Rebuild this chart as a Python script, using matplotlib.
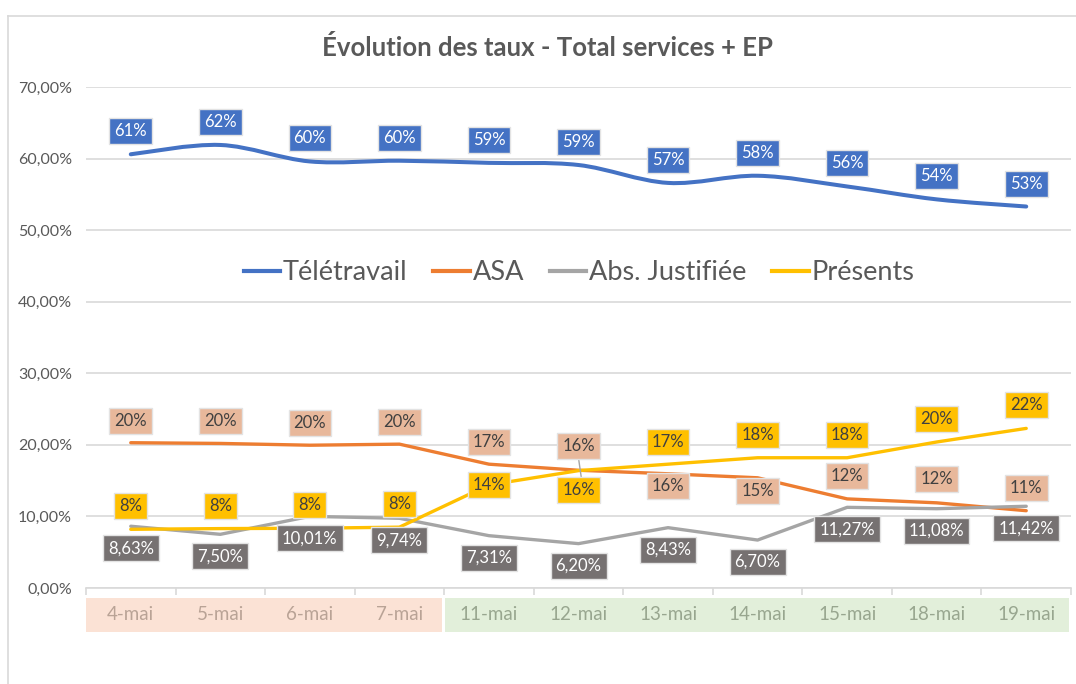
import matplotlib
matplotlib.use("Agg")
import matplotlib.pyplot as plt
from matplotlib.path import Path
from matplotlib.patches import PathPatch, Rectangle
from matplotlib.transforms import blended_transform_factory, offset_copy
from matplotlib.lines import Line2D
import numpy as np

plt.rcParams['font.family'] = ['Lato', 'DejaVu Sans']

categories = ["4-mai", "5-mai", "6-mai", "7-mai", "11-mai", "12-mai",
              "13-mai", "14-mai", "15-mai", "18-mai", "19-mai"]
teletravail = [60.6, 61.9, 59.6, 59.7, 59.4, 59.1, 56.6, 57.6, 56.1, 54.3, 53.3]
asa = [20.3, 20.2, 19.95, 20.1, 17.3, 16.45, 15.96, 15.4, 12.45, 11.9, 10.8]
abs_just = [8.63, 7.50, 10.01, 9.74, 7.31, 6.20, 8.43, 6.70, 11.27, 11.08, 11.42]
presents = [8.2, 8.3, 8.35, 8.5, 14.4, 16.4, 17.3, 18.2, 18.2, 20.4, 22.3]
yticks = [0, 10, 20, 30, 40, 50, 60, 70]
series_names = ["Télétravail", "ASA", "Abs. Justifiée", "Présents"]
title = "Évolution des taux - Total services + EP"

# label placement: pixel offsets (positive = up)
tele_off = [23] * 11
asa_off = [22, 22, 22, 22, 22, 24, -12, -13, 23, 24, 23]
abs_off = [-22] * 11
pres_off = [23, 23, 23, 23, 0, -19, 22, 23, 23, 23, 23]

W, H = 1076, 684
fig = plt.figure(figsize=(W / 100, H / 100), dpi=100)
ax_l, ax_r, ax_t, ax_b = 86, 1071, 87, 588
ax = fig.add_axes([ax_l / W, 1 - ax_b / H, (ax_r - ax_l) / W, (ax_b - ax_t) / H])

x = np.arange(len(categories))
ax.set_xlim(-0.5, len(categories) - 0.5)
ax.set_ylim(0, 70)

grid_c = "#D9D9D9"
for s in ["top", "right", "left"]:
    ax.spines[s].set_visible(False)
ax.spines["bottom"].set_color(grid_c)
ax.spines["bottom"].set_linewidth(1.2)
ax.set_yticks(yticks)
ax.set_yticklabels([f"{v:.2f}".replace(".", ",") + "%" for v in yticks],
                   fontsize=11.5, color="#595959")
ax.tick_params(axis="y", length=0, pad=10)
ax.yaxis.grid(True, color=grid_c, linewidth=1.2)
ax.set_axisbelow(True)
ax.set_xticks(np.arange(-0.5, len(categories), 1.0))
ax.set_xticklabels([])
ax.tick_params(axis="x", length=5, color=grid_c, width=1.2)

# category bands
trans = blended_transform_factory(ax.transData, ax.transAxes)
axh = ax_b - ax_t
band_top = -10 / axh
band_bot = -44 / axh
ax.add_patch(Rectangle((-0.5, band_bot), 3.98, band_top - band_bot, transform=trans,
                       facecolor="#FBE2D5", edgecolor="none", clip_on=False))
ax.add_patch(Rectangle((3.51, band_bot), 6.97, band_top - band_bot, transform=trans,
                       facecolor="#E2EFDA", edgecolor="none", clip_on=False))
for i, c in enumerate(categories):
    col = "#B9A396" if i < 4 else "#98A68F"
    ax.text(i, (band_top + band_bot) / 2, c, transform=trans, ha="center", va="center",
            fontsize=13.5, color=col)

# smooth curve for Télétravail (Catmull-Rom -> Bezier)
def smooth_path(xs, ys, t=1 / 6):
    pts = np.column_stack([xs, ys]).astype(float)
    verts = [pts[0]]
    codes = [Path.MOVETO]
    n = len(pts)
    for i in range(n - 1):
        p0 = pts[i - 1] if i > 0 else pts[i]
        p1 = pts[i]
        p2 = pts[i + 1]
        p3 = pts[i + 2] if i + 2 < n else pts[i + 1]
        c1 = p1 + (p2 - p0) * t
        c2 = p2 - (p3 - p1) * t
        verts += [c1, c2, p2]
        codes += [Path.CURVE4] * 3
    return Path(verts, codes)

colors = ["#4472C4", "#ED7D31", "#A5A5A5", "#FFC000"]
ax.add_patch(PathPatch(smooth_path(x, teletravail), facecolor="none",
                       edgecolor=colors[0], linewidth=2.9, capstyle="round", zorder=3))
ax.plot(x, asa, color=colors[1], linewidth=2.4, solid_capstyle="round", zorder=3)
ax.plot(x, abs_just, color=colors[2], linewidth=2.4, solid_capstyle="round", zorder=3)
ax.plot(x, presents, color=colors[3], linewidth=2.4, solid_capstyle="round", zorder=3)

# leader line for ASA 12-mai
ax.plot([5, 5.03], [asa[5] + 1.7, asa[5] - 0.9], color="#A5A5A5", linewidth=1.0, zorder=4)

def labels(vals, offs, fmt, face, tcol):
    for i, (v, o) in enumerate(zip(vals, offs)):
        tr = offset_copy(ax.transData, fig=fig, x=0, y=o * 0.72, units="points")
        ax.text(i, v, fmt(v), transform=tr, ha="center", va="center",
                fontsize=12, color=tcol, zorder=6,
                bbox=dict(boxstyle="square,pad=0.3", facecolor=face,
                          edgecolor="#E3E3E3", linewidth=1.0))

pct = lambda v: f"{round(v):d}%"
labels(teletravail, tele_off, pct, "#4472C4", "white")
labels(asa, asa_off, pct, "#E8B89B", "#404040")
labels(abs_just, abs_off, lambda v: f"{v:.2f}".replace(".", ",") + "%", "#767171", "white")
labels(presents, pres_off, pct, "#FFC000", "#404040")

handles = [Line2D([], [], color=c, linewidth=3) for c in colors]
leg = ax.legend(handles, series_names, loc="center", ncol=4, frameon=False,
                bbox_to_anchor=((579 - ax_l) / (ax_r - ax_l), (ax_b - 273) / axh),
                fontsize=19.5, handlelength=1.35, handletextpad=0.1, columnspacing=0.95,
                labelcolor="#595959")

fig.text(548 / W, 1 - 47 / H, title, ha="center", va="center", fontsize=18.5,
         fontweight="bold", color="#595959")

# chart border
fig.add_artist(Line2D([8 / W, 8 / W], [0, 1 - 16 / H], transform=fig.transFigure,
                      color="#D9D9D9", linewidth=1.2))
fig.add_artist(Line2D([8 / W, 1], [1 - 16 / H, 1 - 16 / H], transform=fig.transFigure,
                      color="#D9D9D9", linewidth=1.2))

fig.savefig("out.png", dpi=100, facecolor="white")
